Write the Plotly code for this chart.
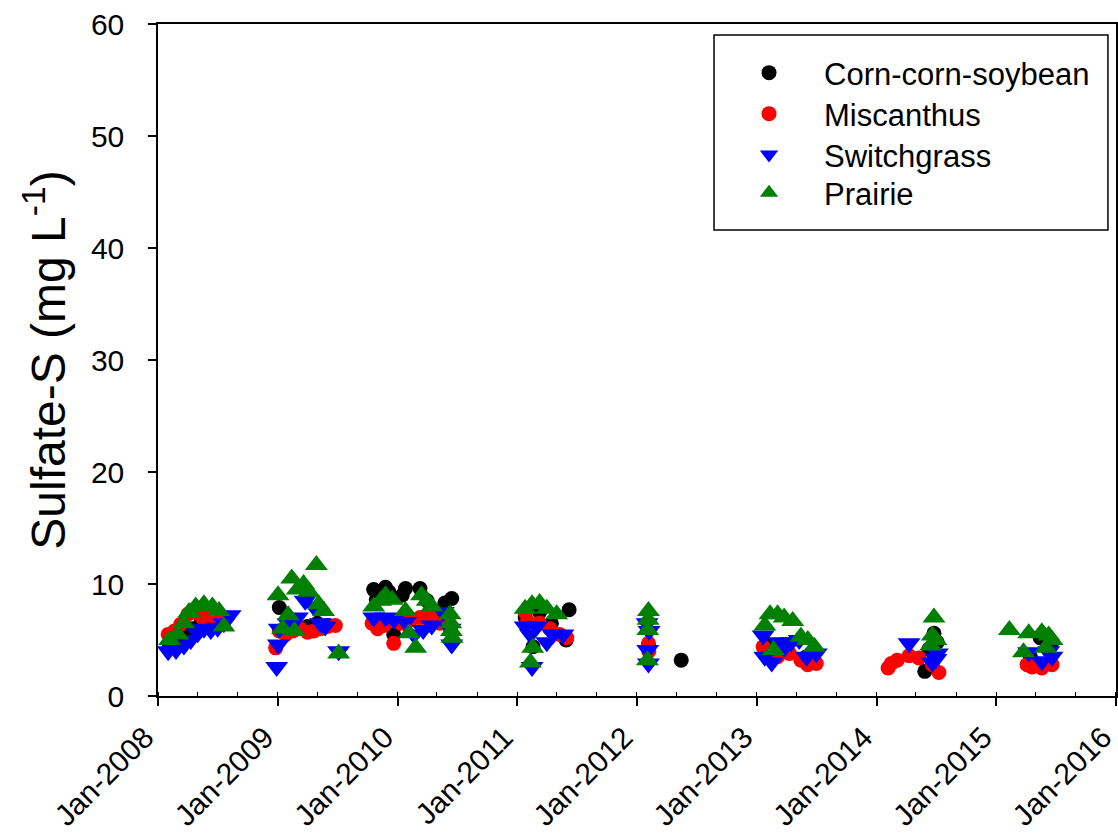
import plotly.graph_objects as go

# ---------------- data ----------------
ccs_dates = ["2008-02-05", "2008-02-25", "2008-03-20", "2008-04-15", "2008-05-10", "2008-06-05", "2008-07-01",
             "2009-01-05", "2009-02-01", "2009-03-01", "2009-04-01", "2009-05-01", "2009-06-01",
             "2009-10-20", "2009-10-28", "2009-11-25", "2009-12-05", "2009-12-20", "2010-01-15", "2010-01-25",
             "2010-03-10", "2010-04-01", "2010-05-01", "2010-05-25", "2010-06-15",
             "2011-01-25", "2011-02-18", "2011-03-10", "2011-04-15", "2011-05-30", "2011-06-08",
             "2012-02-05", "2012-05-15",
             "2013-02-01", "2013-04-01", "2013-06-01",
             "2014-05-28", "2014-06-10", "2014-06-25", "2014-07-05",
             "2015-04-15", "2015-05-15", "2015-06-20"]
ccs_vals = [4.6, 5.0, 5.5, 6.0, 6.5, 7.0, 7.2,
            7.9, 6.5, 6.0, 6.2, 6.5, 6.3,
            9.5, 8.6, 9.7, 9.3, 5.5, 9.0, 9.6,
            9.6, 8.5, 7.5, 8.3, 8.7,
            7.0, 4.4, 7.5, 6.5, 5.0, 7.7,
            4.5, 3.2,
            4.5, 4.0, 3.5,
            2.2, 4.2, 5.6, 4.8,
            3.5, 5.2, 4.8]

mis_dates = ["2008-02-01", "2008-02-20", "2008-03-10", "2008-04-01", "2008-04-20", "2008-05-15", "2008-06-10",
             "2008-07-01", "2008-07-20",
             "2008-12-25", "2009-01-05", "2009-01-25", "2009-02-15", "2009-03-10", "2009-04-01", "2009-04-20",
             "2009-05-10", "2009-06-01", "2009-06-25",
             "2009-10-15", "2009-11-01", "2009-11-20", "2009-12-20", "2010-01-10", "2010-02-10", "2010-03-10",
             "2010-04-10", "2010-05-10", "2010-06-10",
             "2011-01-25", "2011-02-01", "2011-03-10", "2011-04-10", "2011-05-10", "2011-06-01",
             "2012-02-05", "2012-02-06",
             "2013-01-20", "2013-03-05", "2013-04-10", "2013-05-15", "2013-06-05", "2013-07-01",
             "2014-02-05", "2014-02-15", "2014-03-05", "2014-04-10", "2014-05-10", "2014-06-20", "2014-07-10",
             "2015-04-05", "2015-04-20", "2015-05-20", "2015-06-20"]
mis_vals = [5.5, 5.8, 6.4, 7.3, 7.5, 7.0, 7.2, 6.8, 7.0,
            4.3, 5.8, 5.5, 5.8, 6.0, 5.7, 5.8, 6.0, 6.2, 6.3,
            6.5, 6.0, 6.3, 4.7, 6.5, 6.8, 7.0, 7.1, 6.5, 6.0,
            7.5, 6.7, 6.5, 6.0, 5.5, 5.2,
            4.7, 4.0,
            4.4, 3.5, 3.8, 3.2, 2.8, 2.9,
            2.5, 2.9, 3.2, 3.6, 3.4, 2.8, 2.1,
            2.8, 2.6, 2.5, 2.8]

swi_dates = ["2008-02-01", "2008-02-25", "2008-03-20", "2008-04-10", "2008-05-01", "2008-05-20", "2008-06-10",
             "2008-07-01", "2008-07-20", "2008-08-08",
             "2008-12-28", "2009-01-02", "2009-01-05", "2009-02-01", "2009-03-01", "2009-03-25", "2009-04-20",
             "2009-05-10", "2009-05-25", "2009-07-05",
             "2009-10-20", "2009-11-25", "2009-12-20", "2010-01-25", "2010-02-20", "2010-03-20", "2010-04-15",
             "2010-05-20", "2010-06-10", "2010-06-15",
             "2011-01-25", "2011-02-10", "2011-02-15", "2011-03-01", "2011-04-01", "2011-04-20", "2011-05-20",
             "2012-02-01", "2012-02-03", "2012-02-05", "2012-02-07",
             "2013-01-20", "2013-01-25", "2013-02-15", "2013-03-10", "2013-03-25", "2013-04-15", "2013-05-10",
             "2013-06-01", "2013-07-01",
             "2014-04-10", "2014-06-20", "2014-07-01", "2014-07-05",
             "2015-04-10", "2015-05-20", "2015-06-10", "2015-06-20"]
swi_vals = [4.0, 4.1, 4.5, 5.0, 5.6, 6.0, 5.9, 6.1, 6.5, 7.2,
            2.6, 4.6, 6.0, 6.5, 7.0, 8.5, 8.0, 6.5, 6.2, 4.0,
            7.0, 7.0, 6.8, 6.6, 5.5, 5.9, 6.3, 7.5, 6.0, 4.6,
            6.2, 5.5, 2.6, 6.2, 4.8, 5.5, 5.5,
            6.5, 4.1, 2.9, 5.8,
            5.4, 3.5, 3.0, 4.8, 4.3, 4.8, 5.0, 3.5, 3.8,
            4.7, 3.0, 3.3, 3.8,
            3.9, 3.1, 4.0, 3.5]

pra_dates = ["2008-02-05", "2008-03-01", "2008-03-20", "2008-04-05", "2008-04-25", "2008-05-20", "2008-06-15",
             "2008-07-05", "2008-07-20",
             "2009-01-01", "2009-01-15", "2009-02-01", "2009-02-12", "2009-02-20", "2009-03-01", "2009-03-20",
             "2009-04-05", "2009-04-28", "2009-05-05", "2009-05-20", "2009-07-05",
             "2009-10-20", "2009-11-10", "2009-11-25", "2009-12-15", "2010-01-25", "2010-02-05", "2010-02-25",
             "2010-03-15", "2010-04-01", "2010-04-15", "2010-06-10", "2010-06-12", "2010-06-14", "2010-06-16",
             "2011-01-25", "2011-02-10", "2011-02-15", "2011-02-17", "2011-03-10", "2011-04-01", "2011-05-01",
             "2012-02-02", "2012-02-03", "2012-02-04", "2012-02-05",
             "2013-01-25", "2013-02-10", "2013-02-20", "2013-03-05", "2013-03-25", "2013-04-20", "2013-05-15",
             "2013-06-05", "2013-06-25",
             "2014-06-15", "2014-06-20", "2014-06-25", "2014-07-01",
             "2015-02-10", "2015-03-25", "2015-04-10", "2015-05-20", "2015-06-01", "2015-06-10", "2015-06-20"]
pra_vals = [5.0, 5.5, 6.5, 7.5, 8.0, 8.2, 8.0, 7.6, 6.2,
            9.0, 6.0, 7.2, 10.5, 5.8, 9.5, 10.0, 9.3, 11.7, 8.2, 7.6, 3.8,
            8.0, 8.5, 9.0, 8.6, 7.6, 5.6, 4.3, 9.0, 8.5, 8.0, 7.3, 6.5, 5.8, 5.2,
            7.8, 3.0, 8.2, 4.3, 8.3, 7.8, 7.3,
            3.2, 5.9, 6.8, 7.6,
            6.3, 7.3, 4.1, 7.3, 7.0, 6.7, 5.3, 5.0, 4.4,
            4.5, 5.4, 7.0, 5.0,
            5.9, 3.9, 5.6, 5.7, 4.3, 5.4, 5.0]

series_names = ["Corn-corn-soybean", "Miscanthus", "Switchgrass", "Prairie"]
series_colors = ["#000000", "#FF0000", "#0000FF", "#008000"]
series_symbols = ["circle", "circle", "triangle-down", "triangle-up"]
series_sizes = [15, 15, 20, 20]
y_ticks = [0, 10, 20, 30, 40, 50, 60]

FONT = "Liberation Sans, Arial, sans-serif"

# one single-entry legend per series so that row spacing matches the reference
legend_ids = ["legend", "legend2", "legend3", "legend4"]
legend_rows_y = [0.9271, 0.8661, 0.8051, 0.7485]

fig = go.Figure()
all_data = [(ccs_dates, ccs_vals), (mis_dates, mis_vals), (swi_dates, swi_vals), (pra_dates, pra_vals)]
for (d, v), name, col, sym, sz, lid in zip(all_data, series_names, series_colors, series_symbols,
                                           series_sizes, legend_ids):
    fig.add_trace(go.Scatter(
        x=d, y=v, mode="markers", name=name, legend=lid,
        marker=dict(color=col, symbol=sym, size=sz, line=dict(width=0)),
    ))

# legend frame drawn as a rectangle (paper coordinates)
fig.add_shape(type="rect", xref="paper", yref="paper",
              x0=0.5804, x1=0.9916, y0=0.6935, y1=0.9836,
              line=dict(color="black", width=1.5), fillcolor="rgba(0,0,0,0)", layer="above")

legend_common = dict(
    x=0.5804, xanchor="left", yanchor="middle",
    borderwidth=0, bgcolor="rgba(0,0,0,0)",
    font=dict(size=31, family=FONT),
    itemsizing="trace", itemwidth=100,
)

layout_legends = {lid: dict(legend_common, y=yy) for lid, yy in zip(legend_ids, legend_rows_y)}

fig.update_layout(
    width=1118, height=840,
    margin=dict(l=158, r=2, t=24, b=144),
    plot_bgcolor="white", paper_bgcolor="white",
    font=dict(family=FONT, color="black", size=28),
    showlegend=True,
    **layout_legends,
    xaxis=dict(
        type="date", range=["2008-01-01", "2016-01-01 06:00"],
        tick0="2008-01-01", dtick="M12", tickformat="%b-%Y", tickangle=-45,
        showgrid=False, zeroline=False, automargin=False, ticklabeloverflow="allow",
        showline=True, linecolor="black", linewidth=1.5, mirror=True,
        ticks="outside", ticklen=8, tickwidth=1.5, tickcolor="black",
        tickfont=dict(size=30, family=FONT), ticklabelshift=-13, ticklabelstandoff=2,
        minor=dict(dtick="M4", tick0="2008-01-01", ticks="inside", ticklen=4, tickwidth=1, tickcolor="black"),
    ),
    yaxis=dict(
        range=[0, 60], tickvals=y_ticks,
        showgrid=False, zeroline=False, automargin=False, ticklabeloverflow="allow",
        showline=True, linecolor="black", linewidth=1.5, mirror=True,
        ticks="outside", ticklen=8, tickwidth=1.5, tickcolor="black",
        tickfont=dict(size=30, family=FONT), ticklabelstandoff=18,
        title=dict(text="Sulfate-S (mg L<sup>-1</sup>)", font=dict(size=48, family=FONT), standoff=10),
    ),
)

fig.write_html("out.html", config={"displayModeBar": False},
               post_script="document.body.style.margin='0px';document.body.style.overflow='hidden';")
